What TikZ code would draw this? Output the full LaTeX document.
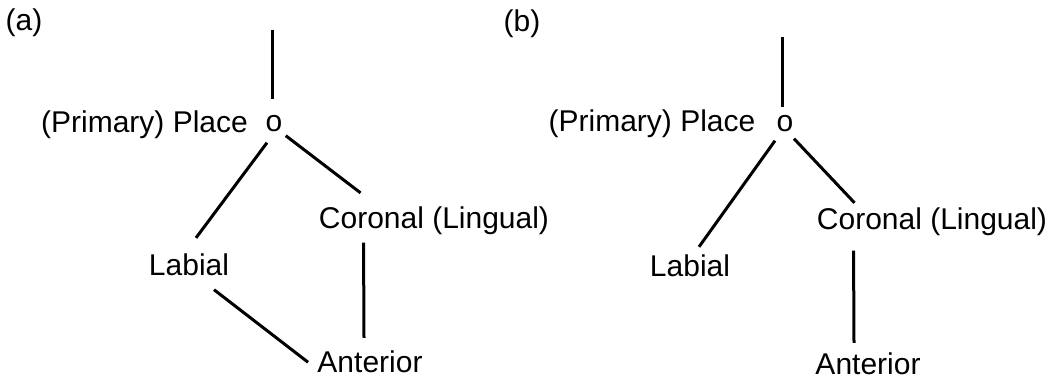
\documentclass[tikz,border=0pt]{standalone}
\usepackage{fontspec}
\setmainfont{Liberation Sans}
\usepackage{tikz}

\begin{document}
\begin{tikzpicture}[x=0.5pt,y=-0.5pt,
  feat/.style={inner sep=0pt, anchor=base, font=\fontsize{15}{18}\selectfont},
  branch/.style={line width=1.5pt}]
\useasboundingbox (0,0) rectangle (1054,379);
% (a)
\node[feat] (taga) at (24,31) {(a)};
\node[feat] (oa) at (274,132) {o};
\node[feat] (pla) at (144.5,133) {(Primary) Place};
\node[feat] (laba) at (189,276) {Labial};
\node[feat] (cora) at (434,228) {Coronal (Lingual)};
\node[feat] (anta) at (370,372) {Anterior};
\coordinate (topa) at (272,30);
\draw[branch] (topa) -- ([shift={(-2,-16)}]oa.north);
\draw[branch] ([shift={(-7,10)}]oa.south) -- ([shift={(7,-16)}]laba.north);
\draw[branch] ([shift={(3,3)}]oa.south east) -- ([shift={(42,-13)}]cora.north west);
\draw[branch] ([shift={(25,13)}]laba.south) -- ([shift={(-9,1)}]anta.west);
\draw[branch] ([shift={(45,8)}]cora.south west) -- ([shift={(-6,-12)}]anta.north);
% (b)
\node[feat] (tagb) at (522,32) {(b)};
\node[feat] (ob) at (785,132) {o};
\node[feat] (plb) at (652,132) {(Primary) Place};
\node[feat] (labb) at (690,277) {Labial};
\node[feat] (corb) at (932,229) {Coronal (Lingual)};
\node[feat] (antb) at (868,374) {Anterior};
\coordinate (topb) at (782,37);
\draw[branch] (topb) -- ([shift={(-3,-8)}]ob.north);
\draw[branch] ([shift={(-10,8)}]ob.south) -- ([shift={(9,-8)}]labb.north);
\draw[branch] ([shift={(9,6)}]ob.south) -- ([shift={(38,-4)}]corb.north west);
\draw[branch] ([shift={(37,15)}]corb.south west) -- ([shift={(-14,-9)}]antb.north);
\end{tikzpicture}
\end{document}
